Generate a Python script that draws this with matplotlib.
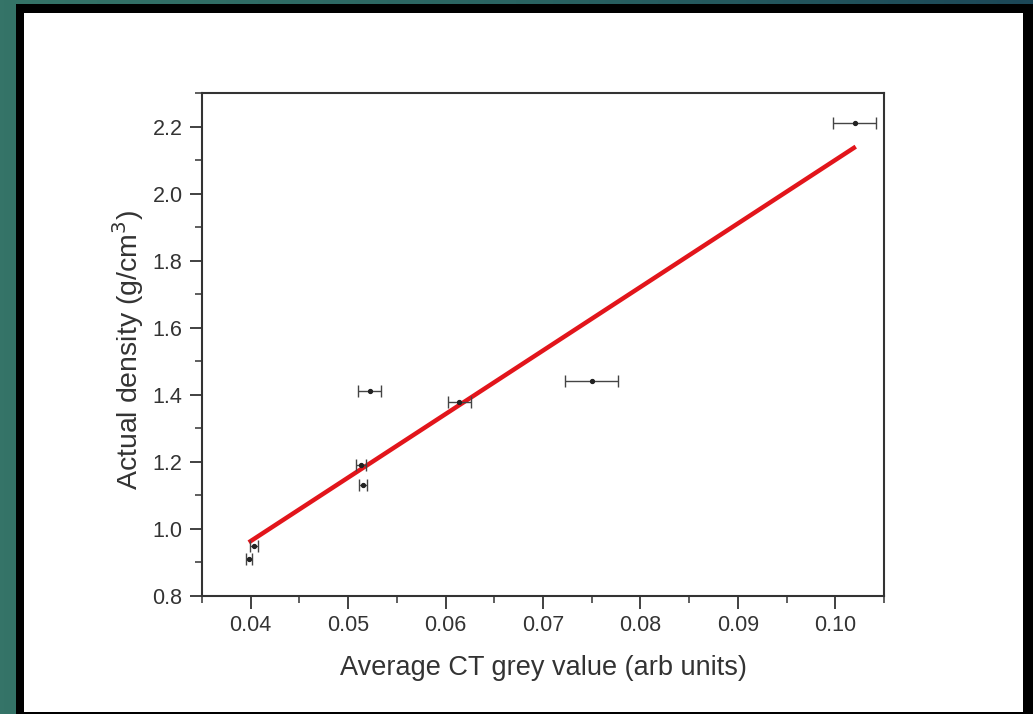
import numpy as np
import matplotlib
matplotlib.use("Agg")
import matplotlib.pyplot as plt
from matplotlib.patches import Rectangle
from matplotlib.colors import LinearSegmentedColormap
from matplotlib.ticker import MultipleLocator, FormatStrFormatter

# ---- data ----
grey_value = [0.0398, 0.0403, 0.0515, 0.0513, 0.0522, 0.0614, 0.0750, 0.1020]
density = [0.91, 0.95, 1.13, 1.19, 1.41, 1.38, 1.44, 2.21]
grey_err = [0.0003, 0.0004, 0.0004, 0.0005, 0.0012, 0.0012, 0.0027, 0.0022]
fit_x = [0.0398, 0.1021]
fit_y = [0.96, 2.14]
x_ticks = [0.04, 0.05, 0.06, 0.07, 0.08, 0.09, 0.10]
y_ticks = [0.8, 1.0, 1.2, 1.4, 1.6, 1.8, 2.0, 2.2]

plt.rcParams['font.family'] = ['Liberation Sans', 'DejaVu Sans']

W, H = 1033, 714
fig = plt.figure(figsize=(W / 100, H / 100), dpi=100)

# background gradient (slide frame)
bg = fig.add_axes([0, 0, 1, 1])
grad = np.linspace(0, 1, 256)[None, :]
cmap = LinearSegmentedColormap.from_list('teal', ['#357468', '#2a6462', '#1c4757'])
bg.imshow(grad, aspect='auto', cmap=cmap, extent=[0, 1, 0, 1])
bg.set_xlim(0, 1); bg.set_ylim(0, 1)
bg.axis('off')
# black frame and white panel
bg.add_patch(Rectangle((16 / W, 0), (W - 16) / W, 1 - 4 / H, facecolor='black', edgecolor='none'))
bg.add_patch(Rectangle((24 / W, 2 / H), (1023 - 24) / W, (712 - 13) / H, facecolor='white', edgecolor='none'))

ax = fig.add_axes([202 / W, 1 - 596 / H, (884 - 202) / W, (596 - 93) / H])
ax.set_facecolor('white')

ax.plot(fit_x, fit_y, color='#e2151b', lw=3.2, solid_capstyle='butt', zorder=2)
ax.errorbar(grey_value, density, xerr=grey_err, fmt='o', ms=2.8, color='#222222',
            ecolor='#444444', elinewidth=1.0, capsize=4, capthick=1.0, zorder=3)

ax.set_xlim(0.035, 0.105)
ax.set_ylim(0.8, 2.3)
ax.set_xticks(x_ticks)
ax.set_yticks(y_ticks)
ax.xaxis.set_major_formatter(FormatStrFormatter('%.2f'))
ax.yaxis.set_major_formatter(FormatStrFormatter('%.1f'))
ax.xaxis.set_minor_locator(MultipleLocator(0.005))
ax.yaxis.set_minor_locator(MultipleLocator(0.1))
ax.tick_params(which='major', direction='out', length=9, width=1.3, labelsize=15.5,
               colors='#333333', labelcolor='#333333', pad=5)
ax.tick_params(which='minor', direction='out', length=5, width=1.1, colors='#333333')
ax.tick_params(top=False, right=False)
for s in ax.spines.values():
    s.set_linewidth(1.5)
    s.set_color('#333333')

ax.set_xlabel('Average CT grey value (arb units)', fontsize=19.5, color='#333333')
ax.set_ylabel('Actual density (g/cm$^3$)', fontsize=20.5, color='#333333')
ax.xaxis.set_label_coords(0.5, -0.118)
ax.yaxis.set_label_coords(-0.082, 0.49)

fig.savefig('out.png', dpi=100)
